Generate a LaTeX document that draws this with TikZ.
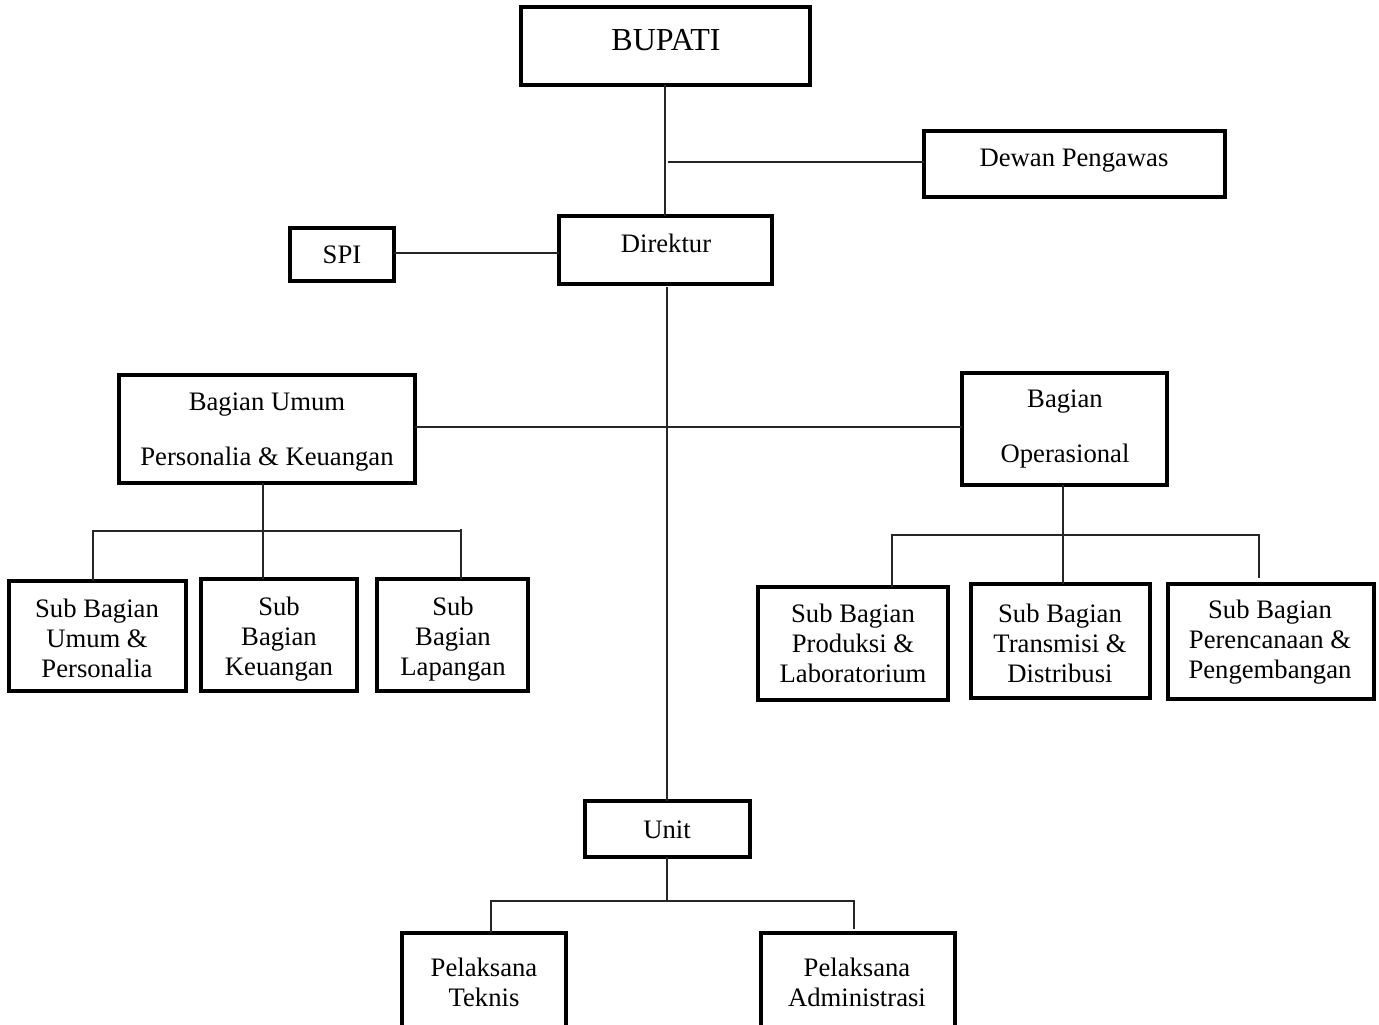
\documentclass[tikz,border=0pt]{standalone}
\usepackage{fontspec}
\setmainfont{Liberation Serif}
\newcommand\orgbox[5]{\node[orgbx, minimum width={(#4-#2)*0.75pt}, minimum height={(#5-#3)*0.75pt}] (#1) at ({(#2+#4)/2},{(#3+#5)/2}) {};}
\tikzset{
  orgbx/.style={draw=black, line width=2.3pt, inner sep=0pt, outer sep=0pt},
  txt/.style={inner sep=0pt, align=center, font=\fontsize{20}{22.5}\selectfont},
  txtwide/.style={inner sep=0pt, align=center, font=\fontsize{20}{41}\selectfont},
  conn/.style={draw=black!85, line width=1pt},
}
\begin{document}
\begin{tikzpicture}[x=0.75pt, y=-0.75pt]
\useasboundingbox (0,0) rectangle (1379,1025);
\clip (0,0) rectangle (1379,1025);
\fill[white] (0,0) rectangle (1379,1025);

% boxes
\orgbox{bupati}{521}{7}{810}{85}
\orgbox{dewan}{924}{131}{1225}{197}
\orgbox{direktur}{559}{216}{772}{284}
\orgbox{spi}{290}{228}{394}{281}
\orgbox{umum}{119}{375}{415}{483}
\orgbox{ops}{962}{373}{1167}{485}
\orgbox{sa}{9}{581}{186}{691}
\orgbox{sb}{201}{579}{357}{691}
\orgbox{sc}{377}{579}{528}{691}
\orgbox{ra}{758}{587}{948}{700}
\orgbox{rb}{971}{584}{1150}{698}
\orgbox{rc}{1168}{584}{1374}{699}
\orgbox{unit}{585}{801}{750}{857}
\orgbox{pt}{402}{933}{566}{1070}
\orgbox{pa}{761}{933}{955}{1070}

% texts
\node[txt, font=\fontsize{24}{28}\selectfont] (bupati-t) at (666,40) {BUPATI};
\node[txt] (dewan-t) at (1074,161) {Dewan Pengawas};
\node[txt] (direktur-t) at (666,243) {Direktur};
\node[txt] (spi-t) at (342,255) {SPI};
\node[txtwide] (umum-t) at (267,432) {Bagian Umum\\Personalia \& Keuangan};
\node[txtwide] (ops-t) at (1065,429) {Bagian\\Operasional};
\node[txt] (sa-t) at (97,638) {Sub Bagian\\Umum \&\\Personalia};
\node[txt] (sb-t) at (279,639) {Sub\\Bagian\\Keuangan};
\node[txt] (sc-t) at (453,639) {Sub\\Bagian\\Lapangan};
\node[txt] (ra-t) at (853,643) {Sub Bagian\\Produksi \&\\Laboratorium};
\node[txt] (rb-t) at (1060,643) {Sub Bagian\\Transmisi \&\\Distribusi};
\node[txt] (rc-t) at (1270,642) {Sub Bagian\\Perencanaan \&\\Pengembangan};
\node[txt] (unit-t) at (667,830) {Unit};
\node[txt] (pt-t) at (484,982) {Pelaksana\\Teknis};
\node[txt] (pa-t) at (857,982) {Pelaksana\\Administrasi};

% helper coordinates
\coordinate (topx) at (665,0);
\coordinate (trunk) at (667,0);
\coordinate (ubus) at (263,531);
\coordinate (ubL) at (93,531);
\coordinate (ubR) at (461,529);
\coordinate (obus) at (1063,535);
\coordinate (obL) at (892,535);
\coordinate (obR) at (1259,535);
\coordinate (obRend) at (1259,578);
\coordinate (nbus) at (667,901);
\coordinate (nbL) at (491,901);
\coordinate (nbR) at (854,901);
\coordinate (nbRend) at (854,929);

% connectors
\draw[conn] (bupati.south -| topx) -- (direktur.north -| topx);
\draw[conn] (bupati.south |- 0,162) ++(2,0) coordinate (dj) -- (dj -| dewan.west);
\draw[conn] (spi.east |- 0,253) -- (direktur.west |- 0,253);
\draw[conn] (direktur.south -| trunk) ++(0,3) -- (unit.north -| trunk);
\draw[conn] (umum.east |- 0,427) -- (ops.west |- 0,427);
% Bagian Umum branch
\draw[conn] (umum.south -| ubus) -- (sb.north -| ubus);
\draw[conn] (sa.north -| ubL) -- (ubL) -- (ubR |- ubL) -- (ubR |- sc.north);
\draw[conn] (ubR) -- (ubR |- ubL);
% Operasional branch
\draw[conn] (ops.south -| obus) -- (rb.north -| obus);
\draw[conn] (ra.north -| obL) -- (obL) -- (obR) -- (obRend);
% Unit branch
\draw[conn] (unit.south -| nbus) -- (nbus);
\draw[conn] (pt.north -| nbL) -- (nbL) -- (nbR) -- (nbRend);
\end{tikzpicture}
\end{document}
